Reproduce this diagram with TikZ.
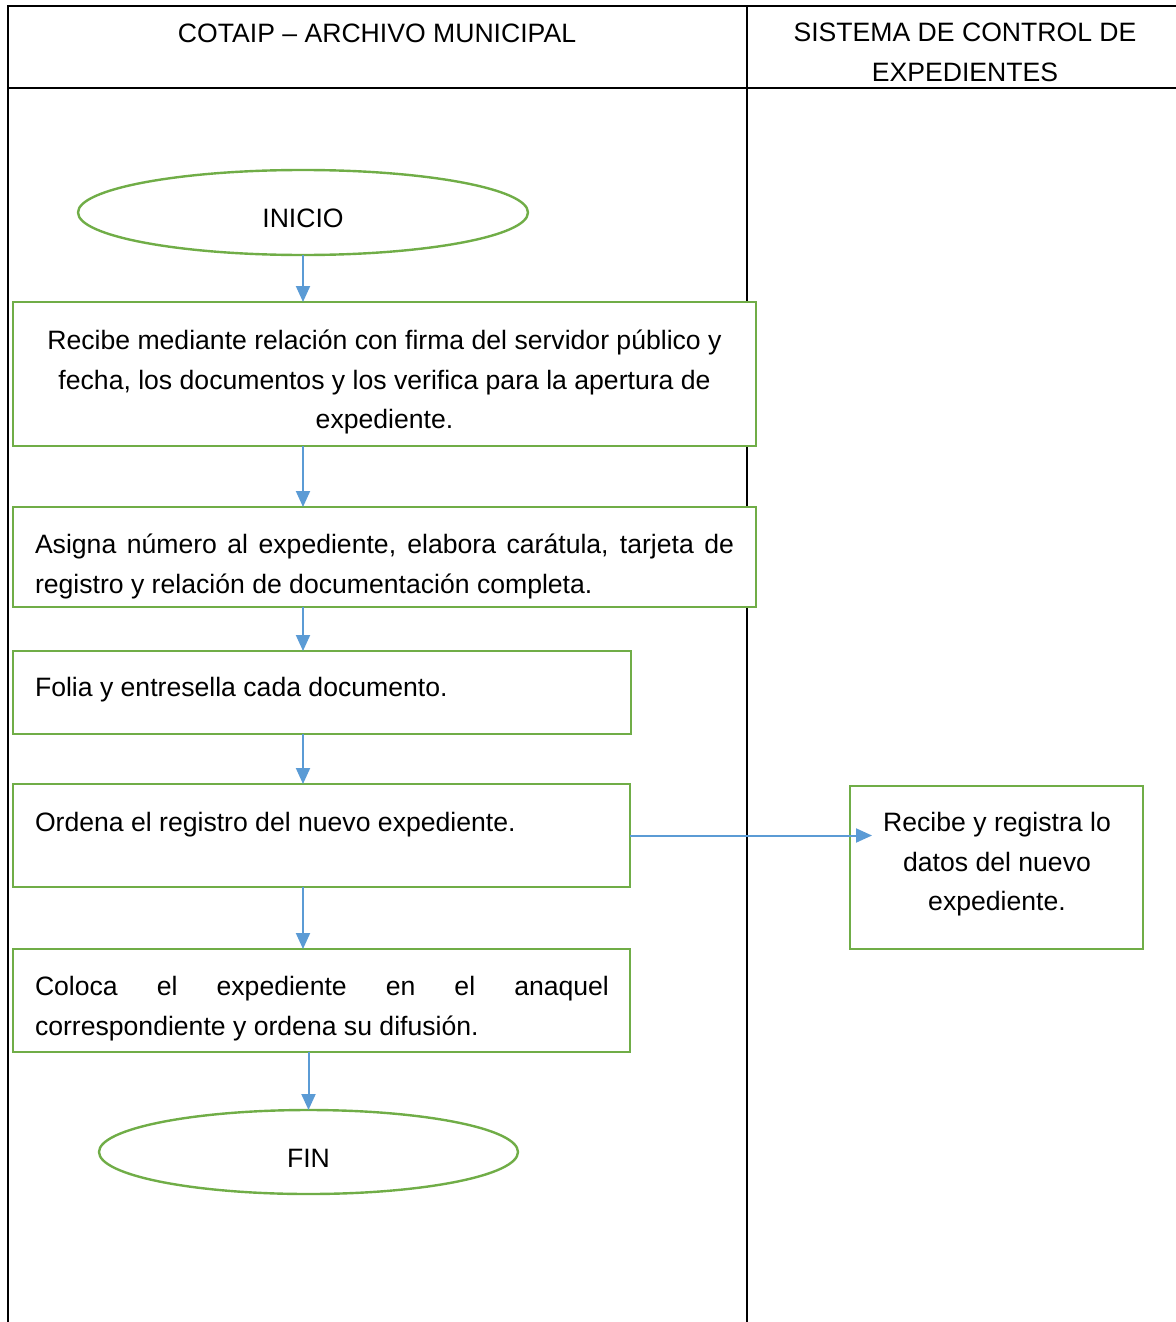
\documentclass[tikz,border=0pt]{standalone}
\usepackage{fontspec}
\setmainfont{Liberation Sans}
\usetikzlibrary{shapes.geometric,arrows.meta}
\definecolor{flowgreen}{HTML}{70AD47}
\definecolor{flowblue}{HTML}{5B9BD5}
\hyphenpenalty=10000
\tolerance=10000
\begin{document}
\begin{tikzpicture}[x={(0.5pt,0)}, y={(0,-0.5pt)},
  txt/.style={font=\fontsize{13.3}{19.8}\selectfont, inner sep=0pt, outer sep=0pt},
  stepbox/.style={draw=flowgreen, line width=1.2pt, rectangle, inner sep=0pt, outer sep=0pt, fill=white},
  term/.style={draw=flowgreen, line width=1.2pt, ellipse, inner sep=0pt, outer sep=0pt, fill=white,
    font=\fontsize{13.3}{19.8}\selectfont, text height=15pt, text depth=0pt},
  flow/.style={draw=flowblue, line width=1pt, -{Triangle[length=8pt,width=7pt]}},
  lane/.style={draw=black, line width=0.7pt}]
\useasboundingbox (0,0) rectangle (1176,1322);
% swimlane table
\draw[lane] (1180,6) -- (8,6) -- (8,1330);
\draw[lane] (8,88) -- (1180,88);
\draw[lane] (747,6) -- (747,1330);
\node[txt] (h1) at (377,33) {COTAIP – ARCHIVO MUNICIPAL};
\node[txt, align=center] (h2) at (965,52.5) {SISTEMA DE CONTROL DE\\EXPEDIENTES};
% shapes
\node[term, minimum width=225pt, minimum height=42.5pt] (inicio) at (303,212.5) {INICIO};
\node[stepbox, minimum width=371.5pt, minimum height=72pt] (b1) at (384.5,374) {};
\node[txt, align=center] (t1) at (384.5,382) {Recibe mediante relación con firma del servidor público y\\fecha, los documentos y los verifica para la apertura de\\expediente.};
\node[stepbox, minimum width=371.5pt, minimum height=50pt] (b2) at (384.5,557) {};
\node[txt, text width=349.5pt, align=justify] (t2) at (384.5,566.5) {Asigna número al expediente, elabora carátula, tarjeta de\linebreak registro y relación de documentación completa.};
\node[stepbox, minimum width=309pt, minimum height=41.5pt] (b3) at (322,692.5) {};
\node[txt, anchor=west] (t3) at (35,690) {Folia y entresella cada documento.};
\node[stepbox, minimum width=308.5pt, minimum height=51.5pt] (b4) at (321.5,835.5) {};
\node[txt, anchor=west] (t4) at (35,825) {Ordena el registro del nuevo expediente.};
\node[stepbox, minimum width=308.5pt, minimum height=51.5pt] (b5) at (321.5,1000.5) {};
\node[txt, text width=287pt, align=justify] (t5) at (322,1008.5) {Coloca el expediente en el anaquel\linebreak correspondiente y ordena su difusión.};
\node[term, minimum width=209.5pt, minimum height=42pt] (fin) at (308.5,1152) {FIN};
\node[stepbox, minimum width=146.5pt, minimum height=81.5pt] (b6) at (996.5,867.5) {};
\node[txt, align=center] (t6) at (997,864.5) {Recibe y registra lo\\datos del nuevo\\expediente.};
% connectors
\coordinate (tip) at (872,835.5);
\draw[flow] (inicio.south) -- (inicio.south |- b1.north);
\draw[flow] (inicio.south |- b1.south) -- (inicio.south |- b2.north);
\draw[flow] (inicio.south |- b2.south) -- (inicio.south |- b3.north);
\draw[flow] (inicio.south |- b3.south) -- (inicio.south |- b4.north);
\draw[flow] (inicio.south |- b4.south) -- (inicio.south |- b5.north);
\draw[flow] (fin.north |- b5.south) -- (fin.north);
\draw[flow] (b4.east) -- (tip);
\end{tikzpicture}
\end{document}
